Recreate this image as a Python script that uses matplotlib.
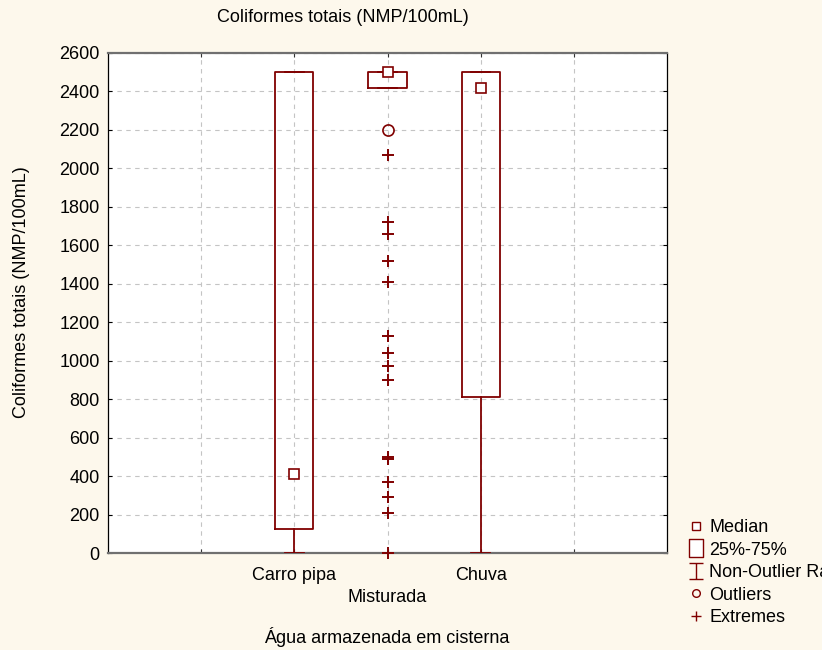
import matplotlib
matplotlib.use("Agg")
import matplotlib.pyplot as plt
from matplotlib.lines import Line2D
from matplotlib.path import Path
from matplotlib.transforms import blended_transform_factory

# dados
categories = ["Carro pipa", "Misturada", "Chuva"]
medians = [410, 2500, 2420]
q1 = [125, 2420, 810]
q3 = [2500, 2500, 2500]
whis_lo = [0, 2420, 0]
whis_hi = [2500, 2500, 2500]
outliers_mist = [2200]
extremes_mist = [2070, 1720, 1660, 1520, 1410, 1130, 1040, 970, 900,
                 500, 490, 370, 290, 210, 0]

red = "#800000"
bg = "#FDF8EC"
plt.rcParams["font.family"] = ["Liberation Sans", "DejaVu Sans"]
fs = 13

fig = plt.figure(figsize=(8.22, 6.5), dpi=100, facecolor=bg)
ax = fig.add_axes([108/822, 1-553/650, 559/822, 500/650])
ax.set_facecolor("white")

positions = [1, 2, 3]
stats = []
for i in range(len(categories)):
    stats.append({"med": medians[i], "q1": q1[i], "q3": q3[i],
                  "whislo": whis_lo[i], "whishi": whis_hi[i],
                  "fliers": [], "label": categories[i]})

ax.bxp(stats, positions=positions, widths=0.41, capwidths=0.2, showfliers=False,
       boxprops=dict(color=red, linewidth=1.3),
       whiskerprops=dict(color=red, linewidth=1.3),
       capprops=dict(color=red, linewidth=1.3),
       medianprops=dict(linewidth=0), zorder=3)

# medianas como quadrados
ax.plot(positions, medians, "s", ms=7, mfc="white", mec=red, mew=1.2, ls="none", zorder=4)
ax.plot([2]*len(outliers_mist), outliers_mist, "o", ms=8, mfc="none", mec=red, mew=1.2,
        ls="none", zorder=4)
ax.plot([2]*len(extremes_mist), extremes_mist, "+", ms=8.5, mec=red, mew=1.4,
        ls="none", zorder=4, clip_on=False)

ax.set_xlim(-1, 5)
ax.set_ylim(0, 2600)
ax.set_yticks(range(0, 2601, 200))
ax.set_xticks([0, 1, 2, 3, 4])
ax.set_xticklabels([])
ax.grid(True, color="#c4c4c4", linestyle=(0, (4, 4)), linewidth=0.8)
ax.set_axisbelow(True)
ax.tick_params(axis="y", direction="in", length=3, left=True, right=True,
               labelsize=fs, pad=6, color="black")
ax.tick_params(axis="x", direction="in", length=3, top=True, bottom=True, color="#333333")

for s in ["top", "bottom"]:
    ax.spines[s].set_color("#707070")
    ax.spines[s].set_linewidth(1.6)
for s in ["left", "right"]:
    ax.spines[s].set_color("black")
    ax.spines[s].set_linewidth(0.9)

# rotulos de categoria escalonados
tr = blended_transform_factory(ax.transData, ax.transAxes)
label_y = [-0.044, -0.09, -0.044]
for p, c, yy in zip(positions, categories, label_y):
    ax.text(p, yy, c, transform=tr, ha="center", va="center", fontsize=fs)

ax.text(0.499, -0.168, "Água armazenada em cisterna", transform=ax.transAxes,
        ha="center", va="center", fontsize=fs)
fig.text(343/822, 1-18/650, "Coliformes totais (NMP/100mL)", ha="center", va="center",
         fontsize=fs)
fig.text(22/822, 1-292/650, "Coliformes totais (NMP/100mL)", rotation=90,
         ha="center", va="center", fontsize=fs)

# legenda
ibar = Path([(-0.4, 0.5), (0.4, 0.5), (0, 0.5), (0, -0.5), (-0.4, -0.5), (0.4, -0.5)],
            [Path.MOVETO, Path.LINETO, Path.MOVETO, Path.LINETO, Path.MOVETO, Path.LINETO])
rect = Path([(-0.4, -0.5), (0.4, -0.5), (0.4, 0.5), (-0.4, 0.5), (-0.4, -0.5)],
            [Path.MOVETO, Path.LINETO, Path.LINETO, Path.LINETO, Path.CLOSEPOLY])
handles = [
    Line2D([], [], marker="s", ms=5.5, mfc="white", mec=red, mew=1, ls="none"),
    Line2D([], [], marker=rect, ms=13, mfc="white", mec=red, mew=1, ls="none"),
    Line2D([], [], marker=ibar, ms=12, mec=red, mew=1, ls="none"),
    Line2D([], [], marker="o", ms=5.5, mfc="none", mec=red, mew=1, ls="none"),
    Line2D([], [], marker="+", ms=7, mec=red, mew=1, ls="none"),
]
labels = ["Median", "25%-75%", "Non-Outlier Range", "Outliers", "Extremes"]
fig.legend(handles, labels, loc="upper left", bbox_to_anchor=(687/822, 1-519/650),
           frameon=False, fontsize=fs, handlelength=1.0, handletextpad=0.22,
           labelspacing=0.31, borderaxespad=0, borderpad=0)

fig.savefig("out.png", dpi=100, facecolor=bg)
